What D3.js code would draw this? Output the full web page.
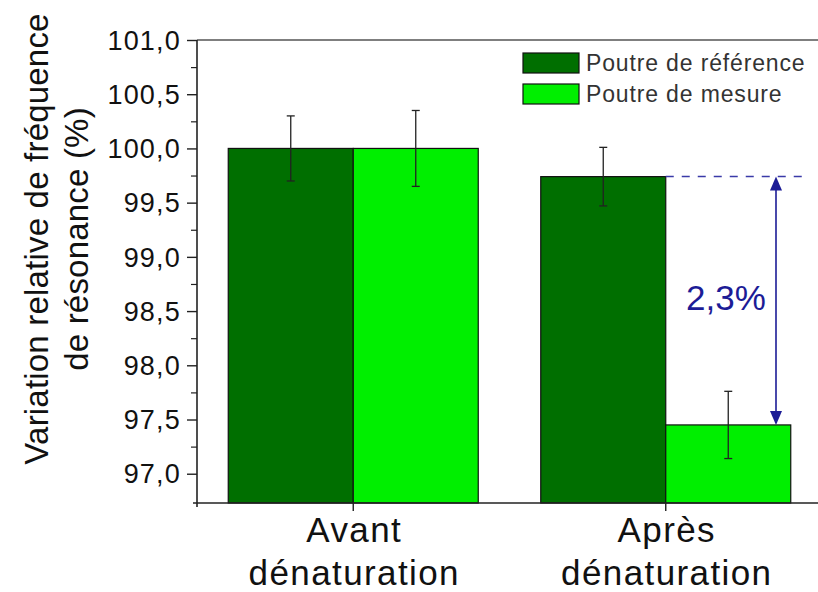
<!DOCTYPE html>
<html>
<head>
<meta charset="utf-8">
<script src="https://cdn.jsdelivr.net/npm/d3@7"></script>
<style>
  html, body { margin: 0; padding: 0; background: #fff; }
  svg { display: block; }
  text { font-family: "Liberation Sans", Arial, sans-serif; }
</style>
</head>
<body>
<svg id="chart" width="818" height="592"></svg>
<script>
// ---- data ----
const categories = ["Avant dénaturation", "Après dénaturation"];
const categoryLines = [["Avant", "dénaturation"], ["Après", "dénaturation"]];
const seriesNames = ["Poutre de référence", "Poutre de mesure"];
const refValues = [100.0, 99.74];
const refErrors = [0.30, 0.27];
const mesValues = [100.0, 97.45];
const mesErrors = [0.35, 0.31];
const yTicks = [97.0, 97.5, 98.0, 98.5, 99.0, 99.5, 100.0, 100.5, 101.0];
const yMinorTicks = [97.25, 97.75, 98.25, 98.75, 99.25, 99.75, 100.25, 100.75];
const yTitleLines = ["Variation relative de fréquence", "de résonance (%)"];
const annotationText = "2,3%";

// ---- layout ----
const svg = d3.select("#chart");
const L = 197, R = 822, T = 40, B = 503;
const colors = ["#006f00", "#00ef00"];
const navy = "#1c1c96";

const y = d3.scaleLinear().domain([96.73, 101.0]).range([B, T]);
const x0 = d3.scaleBand().domain(categories).range([L, R]).paddingInner(0.2).paddingOuter(0.1);
const x1 = d3.scaleBand().domain(seriesNames).range([0, x0.bandwidth()]).padding(0);
const fmt = v => d3.format(".1f")(v).replace(".", ",");

const rows = categories.map((c, i) => ({
  cat: c,
  vals: [
    { s: seriesNames[0], v: refValues[i], e: refErrors[i], color: colors[0] },
    { s: seriesNames[1], v: mesValues[i], e: mesErrors[i], color: colors[1] }
  ]
}));

// bars
const groups = svg.append("g").selectAll("g").data(rows).join("g")
  .attr("transform", d => `translate(${x0(d.cat)},0)`);
groups.selectAll("rect").data(d => d.vals).join("rect")
  .attr("x", d => x1(d.s))
  .attr("y", d => y(d.v))
  .attr("width", x1.bandwidth())
  .attr("height", d => B - y(d.v))
  .attr("fill", d => d.color)
  .attr("stroke", "#111")
  .attr("stroke-width", 1.2);

// error bars
const eb = groups.selectAll("g.err").data(d => d.vals).join("g").attr("class", "err")
  .attr("stroke", "#222").attr("stroke-width", 1.3);
eb.append("line")
  .attr("x1", d => x1(d.s) + x1.bandwidth() / 2).attr("x2", d => x1(d.s) + x1.bandwidth() / 2)
  .attr("y1", d => y(d.v + d.e)).attr("y2", d => y(d.v - d.e));
eb.append("line")
  .attr("x1", d => x1(d.s) + x1.bandwidth() / 2 - 4).attr("x2", d => x1(d.s) + x1.bandwidth() / 2 + 4)
  .attr("y1", d => y(d.v + d.e)).attr("y2", d => y(d.v + d.e));
eb.append("line")
  .attr("x1", d => x1(d.s) + x1.bandwidth() / 2 - 4).attr("x2", d => x1(d.s) + x1.bandwidth() / 2 + 4)
  .attr("y1", d => y(d.v - d.e)).attr("y2", d => y(d.v - d.e));

// frame
svg.append("line").attr("x1", L).attr("x2", R).attr("y1", T).attr("y2", T)
  .attr("stroke", "#555").attr("stroke-width", 1.6);
svg.append("line").attr("x1", L - 4).attr("x2", R).attr("y1", B).attr("y2", B)
  .attr("stroke", "#222").attr("stroke-width", 1.6);
svg.append("line").attr("x1", L).attr("x2", L).attr("y1", T).attr("y2", B + 4)
  .attr("stroke", "#222").attr("stroke-width", 1.6);

// y axis
const yAxis = svg.append("g").attr("transform", `translate(${L},0)`)
  .call(d3.axisLeft(y).tickValues(yTicks).tickFormat(fmt).tickSize(10).tickPadding(6));
yAxis.select(".domain").remove();
yAxis.selectAll(".tick line").attr("stroke", "#222").attr("stroke-width", 1.4);
yAxis.selectAll(".tick text").attr("font-size", 27).attr("fill", "#111")
  .attr("font-family", "Liberation Sans, Arial, sans-serif").attr("dy", "0.34em")
  .attr("letter-spacing", "1.2px");
const yMinor = svg.append("g").attr("transform", `translate(${L},0)`)
  .call(d3.axisLeft(y).tickValues(yMinorTicks).tickFormat("").tickSize(6));
yMinor.select(".domain").remove();
yMinor.selectAll(".tick line").attr("stroke", "#222").attr("stroke-width", 1.2);

// x axis
const xAxis = svg.append("g").attr("transform", `translate(0,${B})`)
  .call(d3.axisBottom(x0).tickSize(8).tickFormat(""));
xAxis.select(".domain").remove();
xAxis.selectAll(".tick line").attr("stroke", "#222").attr("stroke-width", 1.4);
categories.forEach((c, i) => {
  const cx = x0(c) + x0.bandwidth() / 2 + 1;
  const t = svg.append("text").attr("x", cx).attr("y", 542)
    .attr("text-anchor", "middle").attr("font-size", 35).attr("fill", "#111")
    .attr("letter-spacing", "1.4px");
  categoryLines[i].forEach((ln, j) => {
    t.append("tspan").attr("x", cx).attr("dy", j === 0 ? 0 : 43).text(ln);
  });
});

// y title
const yt = svg.append("text").attr("transform", "translate(48,239) rotate(-90)")
  .attr("text-anchor", "middle").attr("font-size", 33).attr("fill", "#111")
  .attr("letter-spacing", "0.2px");
yTitleLines.forEach((ln, j) => {
  yt.append("tspan").attr("x", 0).attr("dy", j === 0 ? 0 : 40).text(ln);
});

// legend
const lg = svg.append("g");
seriesNames.forEach((s, i) => {
  lg.append("rect").attr("x", 523).attr("y", 53 + i * 31).attr("width", 56).attr("height", 20)
    .attr("fill", colors[i]).attr("stroke", "#111").attr("stroke-width", 1.2);
  lg.append("text").attr("x", 586).attr("y", 71 + i * 31).attr("font-size", 23)
    .attr("letter-spacing", "0.85px").attr("fill", "#333").text(s);
});

// annotation: dashed line + double arrow
const cat2 = categories[1];
const refTopY = y(refValues[1]);
const mesTopY = y(mesValues[1]);
const dashX1 = x0(cat2) + x1(seriesNames[1]);
svg.append("line").attr("x1", dashX1).attr("x2", 803).attr("y1", refTopY).attr("y2", refTopY)
  .attr("stroke", "#3a3aa8").attr("stroke-width", 1.5).attr("stroke-dasharray", "8,8");
const ax = 776;
svg.append("line").attr("x1", ax).attr("x2", ax).attr("y1", refTopY + 12).attr("y2", mesTopY - 12)
  .attr("stroke", navy).attr("stroke-width", 1.6);
svg.append("path")
  .attr("d", `M${ax},${refTopY} L${ax - 6},${refTopY + 14} L${ax + 6},${refTopY + 14} Z`)
  .attr("fill", navy);
svg.append("path")
  .attr("d", `M${ax},${mesTopY} L${ax - 6},${mesTopY - 14} L${ax + 6},${mesTopY - 14} Z`)
  .attr("fill", navy);
svg.append("text").attr("x", 726).attr("y", 310).attr("text-anchor", "middle")
  .attr("font-size", 35).attr("fill", navy).text(annotationText);
</script>
</body>
</html>
